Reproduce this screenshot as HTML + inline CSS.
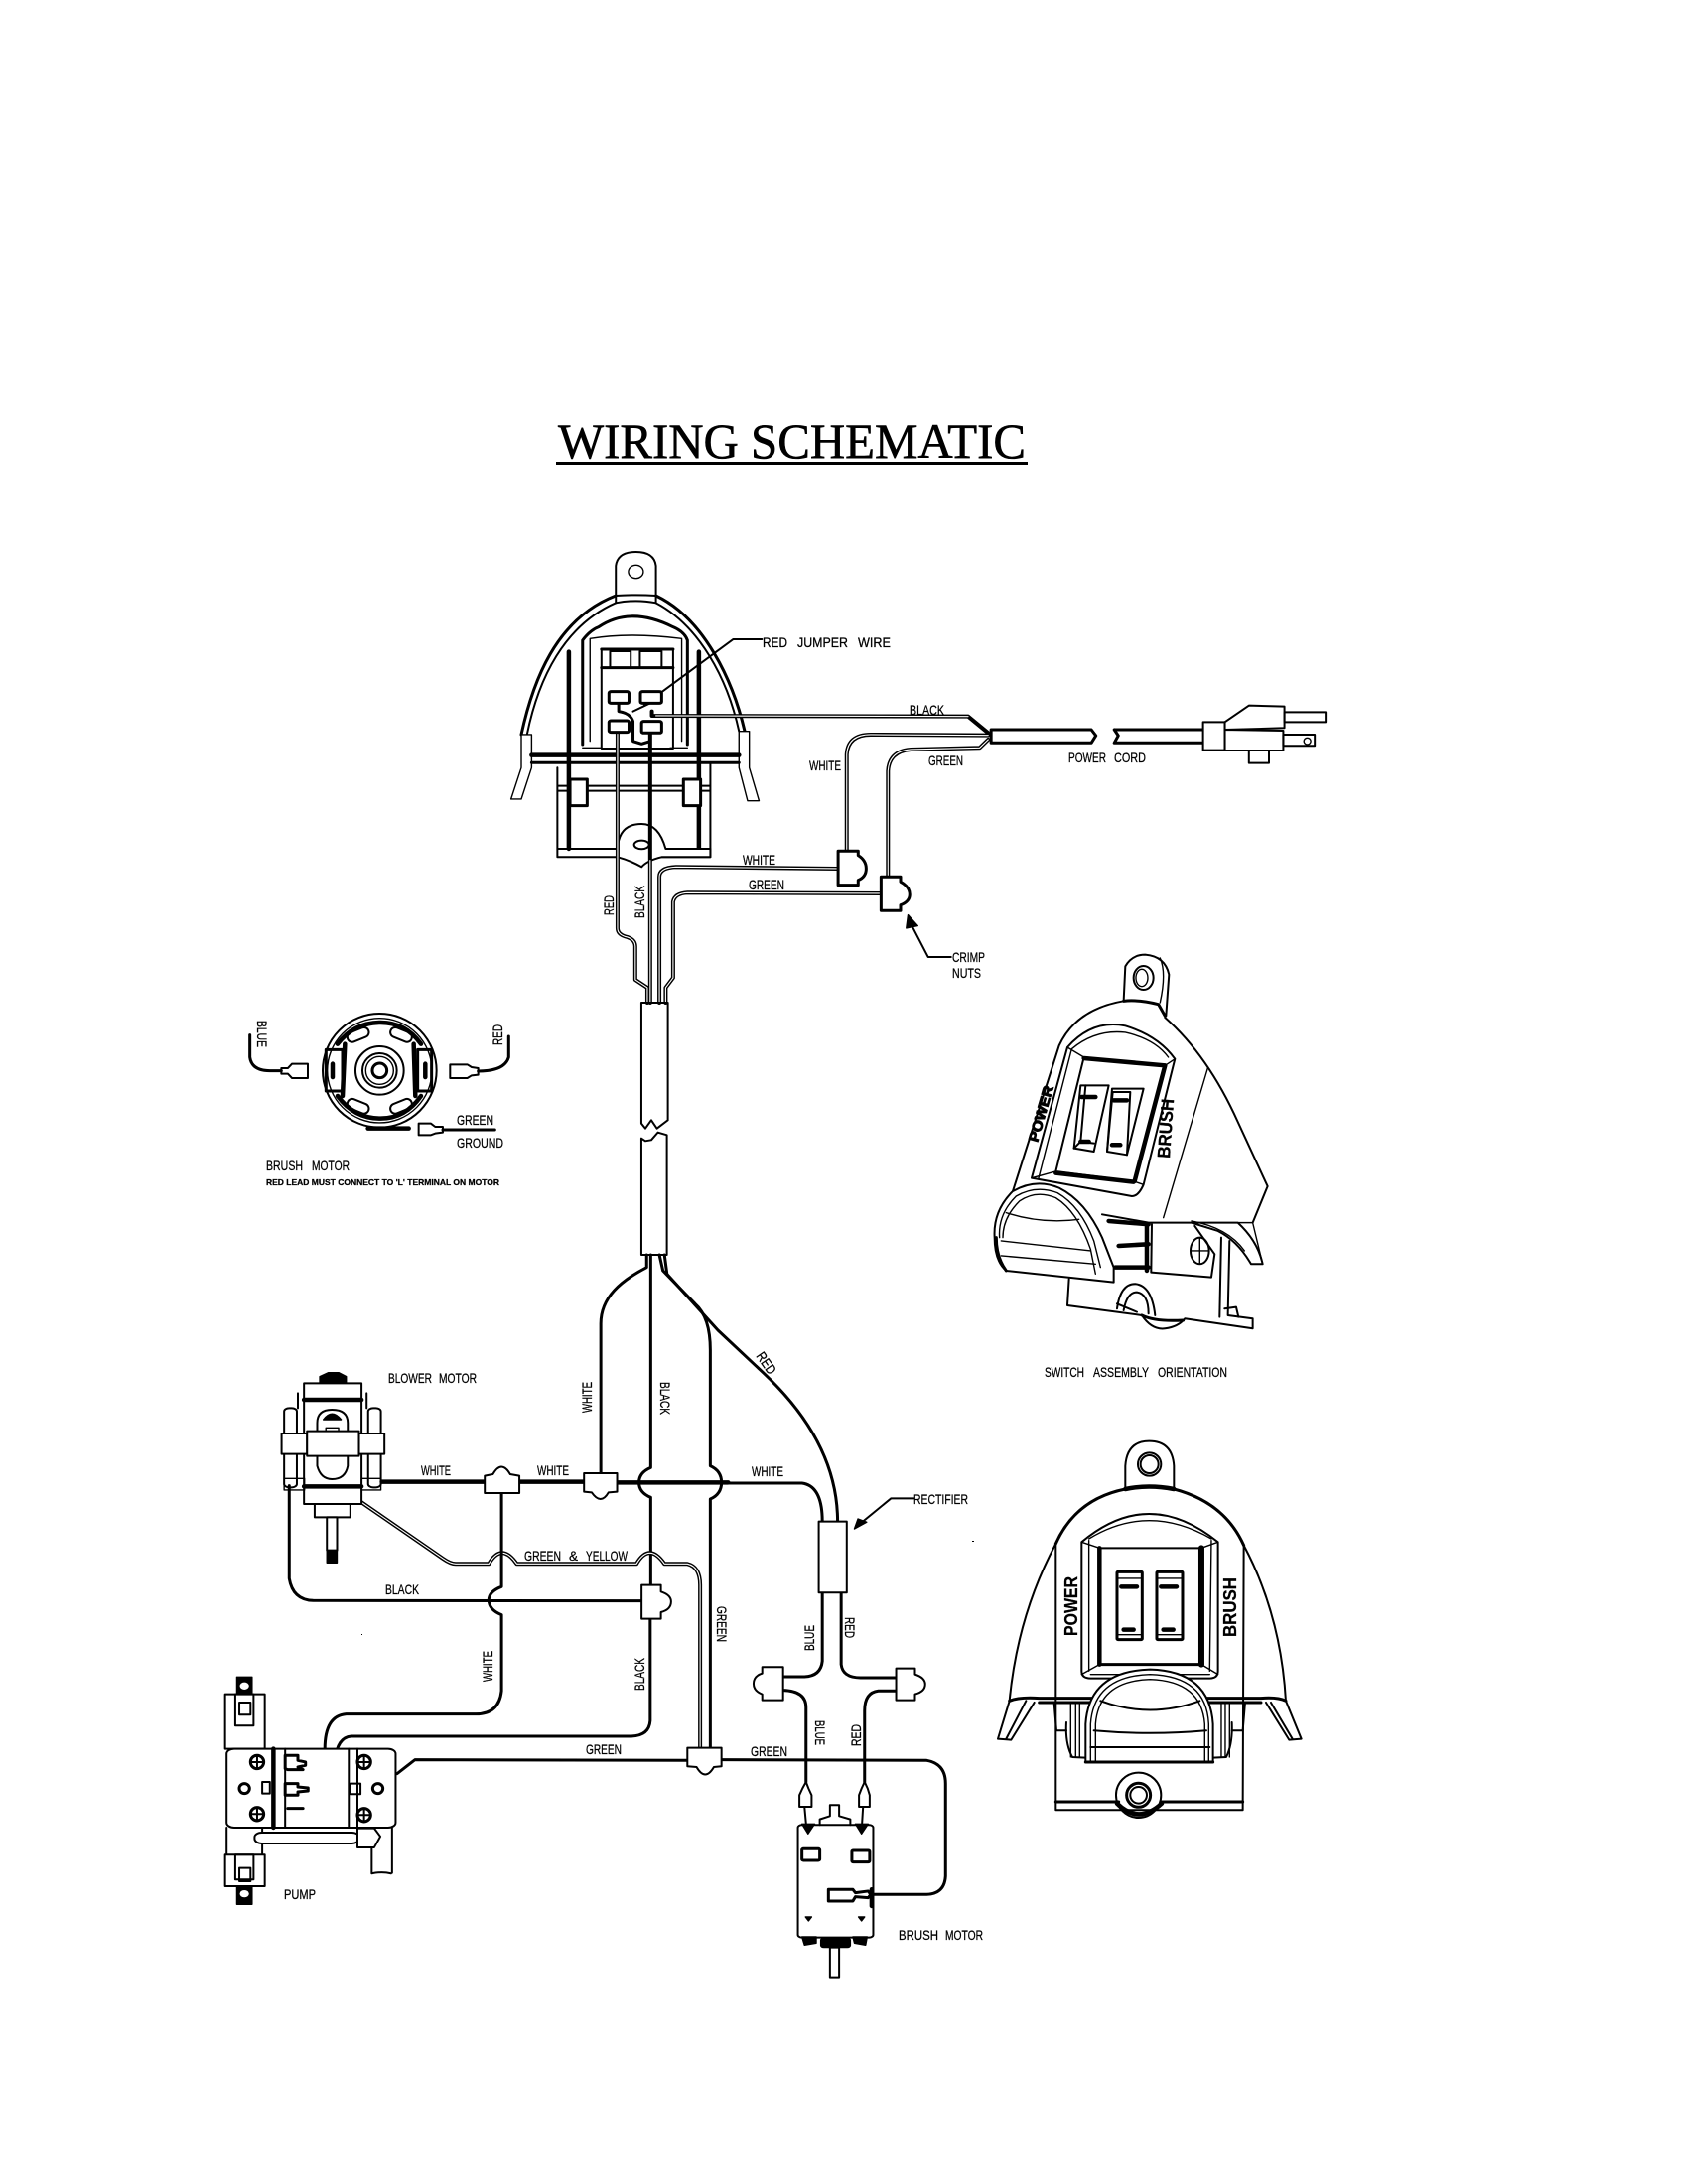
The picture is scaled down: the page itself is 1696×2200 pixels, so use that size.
<!DOCTYPE html>
<html><head><meta charset="utf-8"><title>Wiring Schematic</title>
<style>
html,body{margin:0;padding:0;background:#fff}
svg{display:block}
svg *{vector-effect:non-scaling-stroke}
g.d{fill:none;stroke:#000;stroke-width:1.4;stroke-linejoin:round;stroke-linecap:round}
.w{fill:#fff}
.k{fill:#000}
.m{stroke-width:2}
.t{stroke-width:3}
.x{stroke-width:4.5}
.dk{stroke-width:4}
.dw{stroke:#fff;stroke-width:1.1}
text{font-family:"Liberation Sans",sans-serif;font-size:14px;fill:#000;stroke:#000;stroke-width:.25}
.s{font-size:11px;font-weight:bold}
.b{font-weight:bold;font-size:18px}
</style></head><body>
<svg width="1696" height="2200" viewBox="0 0 1696 2200" xmlns="http://www.w3.org/2000/svg">
<rect width="1696" height="2200" fill="#fff"/>
<text x="562" y="461" textLength="471" lengthAdjust="spacingAndGlyphs" style="font-family:'Liberation Serif',serif;font-size:50px;stroke-width:.6">WIRING SCHEMATIC</text>
<rect x="560" y="465" width="475" height="3" fill="#000"/>

<!-- top switch housing -->
<g class="d" transform="translate(450,520) scale(.577,.3333)">
<path class="m" d="M295 240L295 150Q298 108 330 108Q362 108 365 150L365 240"/>
<ellipse cx="330" cy="168" rx="13" ry="20"/>
<path class="m" d="M295 262L295 240Q330 236 365 240L365 262Q330 250 295 262"/>
<path class="t" d="M130 660C150 500 190 310 295 240M365 240C450 310 500 500 520 650"/>
<path class="m" d="M140 660C160 490 205 330 295 262M365 262C440 330 490 490 510 650"/>
<path class="w" d="M130 660L148 660L148 760L130 855L112 855L130 760Z"/>
<path class="w" d="M510 650L528 650L528 760L545 860L525 860L510 760Z"/>
<path class="t" d="M237 690L237 375Q250 345 265 335Q320 270 395 335Q415 350 420 375L420 690"/>
<path d="M250 680L250 370Q320 350 410 370L410 680M237 700L270 700M390 700L420 700"/>
<rect x="270" y="402" width="125" height="300" class="m"/>
<rect x="285" y="408" width="36" height="50" class="m"/>
<rect x="337" y="408" width="38" height="50" class="m"/>
<path class="t" d="M270 402L395 402M270 458L395 458"/>
<path class="x" d="M148 722L510 722"/>
<path class="t" d="M148 745L510 745"/>
<path class="m" d="M193 760L193 1030L320 1030M460 745L460 1030L375 1030M193 1005L460 1005M195 830L460 830M195 815L460 815"/>
<path class="x" d="M213 410L213 1005M440 410L440 1005"/>
<rect x="215" y="795" width="30" height="80" class="w t"/>
<rect x="413" y="795" width="30" height="80" class="w t"/>
<path class="w m" d="M298 1030L298 1005Q300 930 340 930Q370 930 382 1005L460 1005L460 1030L375 1030Q350 1040 340 1060Q320 1040 298 1030Z" style="fill:#fff"/>
<circle cx="340" cy="993" r="13" class="m"/>
<path class="dk" d="M298 650L298 1245Q298 1265 315 1272Q329 1280 329 1300L329 1401L350 1425L350 1470"/>
<path class="dw" d="M298 650L298 1245Q298 1265 315 1272Q329 1280 329 1300L329 1401L350 1425L350 1470"/>
<path class="dk" d="M355 650L355 1470"/>
<path class="dw" d="M355 1040L355 1470"/>
<path class="dk" d="M371 1470L371 1090Q371 1062 400 1060L683 1065"/>
<path class="dw" d="M371 1470L371 1090Q371 1062 400 1060L683 1065"/>
<path class="dk" d="M382 1470L382 1425L395 1395L395 1165Q398 1140 420 1138L758 1140"/>
<path class="dw" d="M382 1470L382 1425L395 1395L395 1165Q398 1140 420 1138L758 1140"/>
<path class="t" d="M300 565L300 590Q320 595 325 620L325 680L340 688L355 680L355 650"/>
<path class="dk" d="M358 590L358 603L910 605L945 655"/>
<path class="dw" d="M365 603L910 605"/>
<path class="m" d="M345 570L500 372L550 372"/>
<path class="m" d="M325 590L355 565"/>
<rect x="283" y="530" width="35" height="35" rx="4" class="w t"/>
<rect x="338" y="530" width="37" height="35" rx="4" class="w t"/>
<rect x="283" y="618" width="35" height="35" rx="4" class="w t"/>
<rect x="340" y="620" width="35" height="35" rx="4" class="w t"/>
<path class="dk" d="M945 662L740 660Q700 660 698 720L698 1012"/>
<path class="dw" d="M945 662L740 660Q700 660 698 720L698 1012"/>
<path class="dk" d="M945 675L930 700L810 705Q772 710 770 770L770 1090"/>
<path class="dw" d="M945 675L930 700L810 705Q772 710 770 770L770 1090"/>
<path class="t" d="M950 645L1125 645L1133 663L1125 685L950 685Z"/>
<path class="t" d="M1165 645L1172 663L1165 685L1320 685M1165 645L1320 645"/>
<rect x="1320" y="622" width="38" height="85" class="w m"/>
<path class="w m" d="M1358 622L1400 572L1462 575L1462 640L1358 645Z"/>
<path class="w m" d="M1358 645L1460 648L1460 708L1358 708Z"/>
<rect x="1462" y="592" width="72" height="30" class="m"/>
<rect x="1460" y="660" width="55" height="34" class="m"/>
<ellipse cx="1502" cy="680" rx="6" ry="10"/>
<rect x="1400" y="708" width="35" height="38" class="m"/>
<path class="w t" d="M683 1012L718 1012L718 1025Q732 1040 732 1065Q732 1090 718 1100L718 1115L683 1115Z"/>
<path class="w t" d="M758 1090L792 1090L792 1105Q808 1120 808 1143Q808 1165 792 1175L792 1192L758 1192Z"/>
<path class="m" d="M880 1332L840 1332L808 1225"/>
<path class="k" d="M805 1205L802 1245L822 1238Z"/>
</g>

<!-- brush motor end view + sleeve -->
<g class="d" transform="translate(200,980) scale(.3333)">
<circle cx="547" cy="295" r="172" class="m"/>
<circle cx="547" cy="295" r="158"/>
<path class="x" d="M420 215Q470 150 550 150Q625 150 672 215M420 372Q470 440 550 440Q625 440 672 372"/>
<path class="x" d="M442 215L435 372M650 215L655 372"/>
<rect x="385" y="232" width="50" height="125" class="t"/>
<rect x="662" y="232" width="42" height="125" class="t"/>
<path class="x" d="M405 275L405 315M685 275L685 315"/>
<circle cx="547" cy="295" r="73" class="m"/>
<circle cx="547" cy="295" r="52" class="m"/>
<circle cx="547" cy="295" r="42"/>
<circle cx="547" cy="295" r="22" class="t"/>
<rect x="448" y="172" width="68" height="30" rx="15" transform="rotate(-22 482 187)" class="m"/>
<rect x="578" y="172" width="68" height="30" rx="15" transform="rotate(22 612 187)" class="m"/>
<rect x="448" y="388" width="68" height="30" rx="15" transform="rotate(22 482 403)" class="m"/>
<rect x="578" y="388" width="68" height="30" rx="15" transform="rotate(-22 612 403)" class="m"/>
<path class="x" d="M512 470L635 470"/>
<path class="t" d="M155 188L155 255Q160 295 215 296L250 296"/>
<path class="m" d="M250 288L270 288L282 275L330 275L330 318L282 318L270 305L250 305Z"/>
<path class="t" d="M937 192L937 255Q925 297 845 297"/>
<path class="m" d="M845 288L825 285L812 277L760 277L760 318L812 318L825 310L845 308Z"/>
<path class="m" d="M665 455L702 455L715 465L738 465L738 482L715 485L702 490L665 490Z"/>
<path class="t" d="M738 474L895 474"/>
<path class="m" d="M1338 90L1418 90L1418 445L1385 470L1368 445L1350 470L1338 455Z"/>
<path class="m" d="M1338 500L1350 508L1368 505L1388 482L1415 490L1415 852L1338 852Z"/>
</g>

<!-- wires, blower, pump, brush motor -->
<g class="d" transform="translate(200,1340) scale(.5128,.3333)">
<!-- trunk -->
<path class="t" d="M880 -228L880 -190C830 -150 790 -100 790 -20L790 430"/>
<path class="t" d="M888 -228L888 415Q865 430 865 460Q865 490 888 505L888 770"/>
<path class="t" d="M905 -228L912 -180L975 -80Q1005 -40 1005 60L1005 410Q1027 425 1027 460Q1027 495 1005 510L1005 1262"/>
<path class="t" d="M915 -228L920 -170L1020 0L1110 130Q1255 340 1255 578"/>
<path class="dk" d="M985 1262L985 770Q985 715 960 706L915 706Q885 640 860 706L625 706Q595 640 570 706L505 706Q495 706 480 690L320 520"/>
<path class="dw" d="M985 1262L985 770Q985 715 960 706L915 706Q885 640 860 706L625 706Q595 640 570 706L505 706Q495 706 480 690L320 520"/>
<!-- white -->
<path class="x" d="M360 458L562 458M630 458L757 458M822 460L1040 460"/>
<path class="t" d="M1040 462L1185 462Q1225 470 1225 578"/>
<path class="t" d="M595 492L595 775Q570 790 570 815Q570 845 595 860L595 1090Q590 1160 545 1160L290 1160Q248 1165 248 1265Q245 1300 210 1310"/>
<!-- black -->
<path class="t" d="M887 872L887 1180Q885 1225 850 1227L300 1227Q272 1230 268 1300Q268 1385 215 1387"/>
<path class="t" d="M178 470L178 750Q185 815 225 817L870 818"/>
<!-- green -->
<path class="t" d="M390 1340L425 1298L960 1300M1027 1298L1430 1300Q1467 1310 1467 1370L1467 1650Q1465 1703 1430 1705L1320 1705"/>
<!-- rectifier branches -->
<path class="t" d="M1225 793L1225 1000Q1222 1045 1190 1047L1148 1047"/>
<path class="t" d="M1262 793L1262 1010Q1265 1050 1300 1050L1370 1050"/>
<path class="t" d="M1148 1088Q1193 1090 1193 1140L1193 1365"/>
<path class="t" d="M1370 1090L1335 1090Q1308 1095 1308 1150L1308 1365"/>
<rect x="1218" y="578" width="55" height="215" class="w m"/>
<path class="m" d="M1405 508L1360 508L1295 590"/>
<path class="k" d="M1288 600L1295 570L1312 580Z"/>
<!-- nuts -->
<path class="w m" d="M562 492L562 440L578 435Q595 390 612 435L630 440L630 492Z"/>
<path class="w m" d="M757 432L822 432L822 488L805 490Q790 530 772 490L757 488Z"/>
<path class="w m" d="M870 770L908 770L908 790Q928 800 928 820Q928 845 908 852L908 872L870 872Z"/>
<path class="w m" d="M1107 1018L1148 1018L1148 1118L1107 1118L1107 1100Q1090 1090 1090 1068Q1090 1045 1107 1037Z"/>
<path class="w m" d="M1370 1022L1407 1022L1407 1040Q1427 1050 1427 1070Q1427 1092 1407 1100L1407 1118L1370 1118Z"/>
<path class="w m" d="M960 1262L1027 1262L1027 1318L1012 1320Q995 1365 978 1320L960 1318Z"/>
<!-- blower -->
<rect x="207" y="160" width="113" height="365" class="w m"/>
<path class="k" d="M238 160L238 140L255 128L275 128L290 140L290 160Z"/>
<path class="x" d="M207 210L320 210M207 472L320 472"/>
<rect x="168" y="235" width="25" height="240" rx="10" class="m"/>
<rect x="333" y="235" width="25" height="240" rx="10" class="m"/>
<path class="m" d="M195 190L195 235M330 190L330 235"/>
<path class="m" d="M233 305L233 280Q233 240 262 240Q293 240 293 280L293 305"/>
<path class="m" d="M233 380L233 410Q240 450 262 450Q288 450 293 410L293 380"/>
<path class="k" d="M245 270Q262 235 280 270Z"/>
<rect x="250" y="295" width="25" height="15"/>
<rect x="163" y="312" width="50" height="62" class="w m"/>
<rect x="213" y="305" width="102" height="75" class="w m"/>
<rect x="315" y="312" width="50" height="62" class="w m"/>
<rect x="168" y="448" width="40" height="35"/>
<rect x="320" y="448" width="38" height="35"/>
<rect x="228" y="525" width="70" height="40" class="m"/>
<rect x="252" y="565" width="20" height="100" class="w m"/>
<rect x="252" y="665" width="20" height="38" class="k"/>
<!-- pump -->
<rect x="52" y="1100" width="78" height="165" class="w m"/>
<rect x="75" y="1048" width="30" height="50" class="k"/>
<ellipse cx="90" cy="1075" rx="9" ry="11" fill="#fff" stroke="none"/>
<rect x="72" y="1100" width="36" height="95" class="w m"/>
<rect x="80" y="1125" width="22" height="37" class="m"/>
<rect x="55" y="1265" width="332" height="238" rx="15" class="w m"/>
<path class="x" d="M147 1265L147 1503"/>
<path class="m" d="M170 1265L170 1503M295 1265L295 1503M312 1265L312 1503"/>
<g class="t">
<ellipse cx="115" cy="1305" rx="13" ry="20"/><ellipse cx="115" cy="1462" rx="13" ry="20"/>
<ellipse cx="325" cy="1305" rx="13" ry="20"/><ellipse cx="325" cy="1465" rx="13" ry="20"/>
<ellipse cx="90" cy="1385" rx="10" ry="15"/><ellipse cx="352" cy="1385" rx="10" ry="15"/>
</g>
<path class="m" d="M115 1285L115 1325M103 1305L127 1305M115 1442L115 1482M103 1462L127 1462M325 1285L325 1325M313 1305L337 1305M325 1445L325 1485M313 1465L337 1465"/>
<rect x="125" y="1365" width="15" height="35" class="m"/>
<rect x="298" y="1370" width="20" height="32" class="m"/>
<path class="w t" d="M170 1285L195 1285L195 1300L210 1305L210 1315L195 1320L205 1328L175 1328L170 1325Z"/>
<path class="w t" d="M170 1370L195 1370L195 1380L215 1383L215 1392L195 1395L195 1405L170 1405Z"/>
<path class="t" d="M175 1445L205 1445"/>
<path class="m" d="M55 1503L55 1585M125 1503L125 1585M312 1503L312 1505M380 1503L380 1640"/>
<rect x="110" y="1518" width="205" height="33" rx="14" class="w m"/>
<path class="w m" d="M312 1505L345 1505L357 1530L345 1563L312 1563Z"/>
<path class="m" d="M340 1563L340 1642Q360 1635 378 1642"/>
<rect x="52" y="1585" width="78" height="95" class="w m"/>
<rect x="72" y="1585" width="36" height="75" class="m"/>
<rect x="80" y="1625" width="22" height="40" class="m"/>
<rect x="75" y="1680" width="30" height="55" class="k"/>
<ellipse cx="90" cy="1703" rx="9" ry="11" fill="#fff" stroke="none"/>
<!-- brush motor -->
<rect x="1177" y="1495" width="148" height="340" rx="8" class="w m"/>
<path class="m" d="M1220 1495L1220 1478L1240 1468L1240 1435L1258 1435L1258 1468L1280 1478L1280 1495"/>
<path class="k" d="M1185 1492L1210 1492L1197 1522ZM1290 1492L1315 1492L1302 1522Z"/>
<path class="m" d="M1190 1440L1193 1490M1305 1440L1303 1490"/>
<path class="w m" d="M1193 1365L1198 1385L1204 1405L1204 1440L1180 1440L1180 1405L1186 1385Z"/>
<path class="w m" d="M1308 1365L1314 1385L1318 1405L1318 1440L1297 1440L1297 1405L1302 1385Z"/>
<rect x="1185" y="1567" width="35" height="35" rx="3" class="t"/>
<rect x="1283" y="1572" width="35" height="35" rx="3" class="t"/>
<path class="w t" d="M1237 1690L1285 1690L1290 1700L1315 1695L1320 1705L1315 1715L1290 1712L1285 1725L1237 1725Z"/>
<path class="x" d="M1322 1690L1322 1740"/>
<path class="k" d="M1192 1773L1204 1773L1198 1785ZM1296 1773L1308 1773L1302 1785Z"/>
<path class="k" d="M1185 1833L1213 1833L1213 1852L1190 1858ZM1285 1833L1313 1833L1310 1858L1288 1852Z"/>
<rect x="1222" y="1837" width="58" height="28" rx="6" class="k"/>
<rect x="1240" y="1865" width="18" height="90" class="w m"/>
</g>

<!-- switch assembly orientation -->
<g class="d" transform="translate(960,930) scale(.3333)">
<path class="m" d="M515 235L520 130Q540 95 580 95Q640 100 652 155L643 280"/>
<path d="M625 105Q645 150 625 240"/>
<ellipse cx="575" cy="165" rx="30" ry="36" class="m"/>
<ellipse cx="570" cy="165" rx="18" ry="26"/>
<path class="t" d="M515 235Q560 230 620 245L640 280"/>
<path class="m" d="M180 810L320 370Q370 260 515 235M640 285Q770 400 860 600L950 795L905 905"/>
<path d="M770 435L635 890"/>
<path class="m" d="M237 770L345 375Q420 290 520 310Q620 340 670 410L575 790Q560 825 540 825L237 770"/>
<path d="M258 770L358 380Q430 320 520 330Q610 350 650 405"/>
<path d="M345 375L395 405M670 410L640 430M575 790L545 780M237 770L310 750"/>
<path class="m" d="M395 405L640 430L545 780L310 750Z"/>
<path class="x" d="M395 408L640 430M640 430L548 780M310 755L545 782"/>
<path class="w m" d="M385 490L470 490L425 690L365 680Z"/>
<path class="m" d="M400 490L385 660L365 680M385 660L425 665"/>
<path class="w m" d="M480 500L575 500L525 700L465 690Z"/>
<path class="m" d="M482 510L535 510L525 700M482 510L465 690"/>
<path class="x" d="M388 525L430 525M385 660L410 660M485 535L525 535M480 670L505 670"/>
<path class="w m" d="M125 950Q120 870 180 810Q250 770 320 800Q400 840 450 950L485 1040L485 1085L160 1050Q125 1020 125 950Z"/>
<path d="M140 950Q135 880 190 825Q250 790 315 815Q385 855 425 960L445 1040"/>
<path d="M150 950Q150 890 200 840Q250 805 310 830Q375 870 415 985L430 1060"/>
<path d="M160 875Q270 910 380 895M145 960L415 990M145 1005L430 1030"/>
<path class="t" d="M130 950Q130 1010 160 1050"/>
<path class="m" d="M350 1075L345 1155L570 1185Q600 1230 640 1225Q680 1220 700 1195L905 1225L905 1195L830 1185L835 960"/>
<path class="m" d="M810 950L805 1190M820 1165L855 1160L862 1190"/>
<path class="m" d="M495 1165Q505 1090 550 1090Q600 1095 610 1185M515 1170Q525 1115 555 1115Q590 1120 590 1180M495 1150L555 1175"/>
<path class="t" d="M570 1185Q610 1205 695 1200"/>
<path class="m" d="M450 880L590 905L860 905Q920 960 935 1030L900 1030Q860 960 800 930L720 905"/>
<path d="M720 900Q830 920 880 990M860 905L905 905L935 1030"/>
<path class="m" d="M600 910L598 1055L780 1070L790 1000L730 915"/>
<path class="x" d="M470 900L590 910M500 975L590 970M490 1040L590 1040M585 910L585 1050"/>
<ellipse cx="745" cy="990" rx="28" ry="40" class="m"/>
<path d="M720 990L770 990M745 950L745 1030"/>
</g>

<!-- front switch view -->
<g class="d" transform="translate(970,1420) scale(.3333)">
<path class="m" d="M490 240L490 170Q495 95 562 95Q632 95 637 170L637 240"/>
<circle cx="563" cy="165" r="35" class="m"/>
<circle cx="563" cy="165" r="27" class="m"/>
<path class="x" d="M490 240Q560 225 637 240"/>
<path class="t" d="M490 240Q340 270 280 405M637 240Q790 280 848 410"/>
<path class="m" d="M280 405Q165 620 140 880M848 410Q960 620 975 880"/>
<path class="m" d="M280 405L280 1210L845 1210L848 410"/>
<path class="m" d="M358 400Q560 230 770 400L770 790Q770 812 745 812L385 812Q358 812 358 790Z"/>
<path d="M380 390Q560 280 750 390M380 395L380 790M750 395L745 790M358 400L412 418M770 400L720 418M358 800L412 770M770 800L720 770M385 800L745 800"/>
<rect x="412" y="418" width="308" height="352" class="m"/>
<path class="x" d="M412 418L412 770"/>
<path d="M720 418L720 770" style="stroke-width:6"/>
<path class="t" d="M412 770L720 770"/>
<rect x="465" y="490" width="76" height="205" rx="3" class="t"/>
<rect x="585" y="490" width="78" height="205" rx="3" class="t"/>
<path d="M465 510L541 510M585 510L663 510M470 680L537 680M590 680L660 680"/>
<path class="x" d="M478 535L525 535M598 535L645 535M485 665L515 665M605 665L635 665"/>
<path class="m" d="M140 880L105 995L145 998L215 885M190 880L130 995"/>
<path class="m" d="M975 880L1022 995L985 998L915 885M930 885L995 995"/>
<path class="t" d="M140 880Q170 868 230 872L900 872Q950 868 975 880M230 885L900 885"/>
<path class="m" d="M275 885L282 970M852 885L845 970M282 970L312 970M845 970L812 970"/>
<path d="M325 890L325 1050M340 890L340 1050M352 890L352 1050M780 890L780 1050M792 890L792 1050M805 890L805 1050"/>
<path class="m" d="M312 945Q308 1010 330 1050L370 1052M812 945Q815 1010 795 1050L755 1052"/>
<path class="w m" d="M370 1065L370 950Q380 790 565 785Q745 790 755 950L755 1065Z"/>
<path d="M385 1065L385 950Q395 805 565 800Q735 805 742 950L742 1065"/>
<path d="M400 1065L400 950Q410 820 565 815Q720 820 730 950L730 1065"/>
<path class="m" d="M415 880Q565 935 715 880M395 970Q565 985 735 970M385 1020L745 1020"/>
<path class="t" d="M370 1065L755 1065"/>
<path class="t" d="M280 1185L470 1185M600 1185L845 1185"/>
<circle cx="530" cy="1165" r="68" class="m"/>
<circle cx="530" cy="1165" r="36" class="t"/>
<circle cx="530" cy="1165" r="25" class="m"/>
<path class="x" d="M465 1190Q530 1255 600 1190"/>
</g>

<!-- stray specks -->
<rect x="979" y="1552" width="2" height="1" fill="#000"/>
<rect x="364" y="1646" width="1" height="1" fill="#000"/>

<!-- labels -->
<text x="768" y="652" textLength="25" lengthAdjust="spacingAndGlyphs">RED</text>
<text x="803" y="652" textLength="51" lengthAdjust="spacingAndGlyphs">JUMPER</text>
<text x="864" y="652" textLength="33" lengthAdjust="spacingAndGlyphs">WIRE</text>
<text x="916" y="720" textLength="35" lengthAdjust="spacingAndGlyphs">BLACK</text>
<text x="815" y="776" textLength="32" lengthAdjust="spacingAndGlyphs">WHITE</text>
<text x="935" y="771" textLength="35" lengthAdjust="spacingAndGlyphs">GREEN</text>
<text x="1076" y="768" textLength="38" lengthAdjust="spacingAndGlyphs">POWER</text>
<text x="1122" y="768" textLength="32" lengthAdjust="spacingAndGlyphs">CORD</text>
<text x="748" y="871" textLength="33" lengthAdjust="spacingAndGlyphs">WHITE</text>
<text x="754" y="896" textLength="36" lengthAdjust="spacingAndGlyphs">GREEN</text>
<text x="959" y="969" textLength="33" lengthAdjust="spacingAndGlyphs">CRIMP</text>
<text x="959" y="985" textLength="29" lengthAdjust="spacingAndGlyphs">NUTS</text>
<text transform="translate(618,922) rotate(-90)" textLength="20" lengthAdjust="spacingAndGlyphs">RED</text>
<text transform="translate(649,925) rotate(-90)" textLength="33" lengthAdjust="spacingAndGlyphs">BLACK</text>

<text transform="translate(259,1028) rotate(90)" textLength="27" lengthAdjust="spacingAndGlyphs">BLUE</text>
<text transform="translate(506,1053) rotate(-90)" textLength="21" lengthAdjust="spacingAndGlyphs">RED</text>
<text x="460" y="1133" textLength="37" lengthAdjust="spacingAndGlyphs">GREEN</text>
<text x="460" y="1156" textLength="47" lengthAdjust="spacingAndGlyphs">GROUND</text>
<text x="268" y="1179" textLength="37" lengthAdjust="spacingAndGlyphs">BRUSH</text>
<text x="314" y="1179" textLength="38" lengthAdjust="spacingAndGlyphs">MOTOR</text>
<text x="268" y="1194" class="s" textLength="235" lengthAdjust="spacing" style="font-size:8.5px">RED LEAD MUST CONNECT TO 'L' TERMINAL ON MOTOR</text>

<text x="391" y="1393" textLength="44" lengthAdjust="spacingAndGlyphs">BLOWER</text>
<text x="442" y="1393" textLength="38" lengthAdjust="spacingAndGlyphs">MOTOR</text>
<text transform="translate(596,1423) rotate(-90)" textLength="31" lengthAdjust="spacingAndGlyphs">WHITE</text>
<text transform="translate(665,1392) rotate(90)" textLength="33" lengthAdjust="spacingAndGlyphs">BLACK</text>
<text transform="translate(761,1366) rotate(55)" textLength="24" lengthAdjust="spacingAndGlyphs">RED</text>
<text x="424" y="1486" textLength="30" lengthAdjust="spacingAndGlyphs">WHITE</text>
<text x="541" y="1486" textLength="32" lengthAdjust="spacingAndGlyphs">WHITE</text>
<text x="757" y="1487" textLength="32" lengthAdjust="spacingAndGlyphs">WHITE</text>
<text x="528" y="1572" textLength="37" lengthAdjust="spacingAndGlyphs">GREEN</text>
<text x="573" y="1572" textLength="9" lengthAdjust="spacingAndGlyphs">&amp;</text>
<text x="590" y="1572" textLength="42" lengthAdjust="spacingAndGlyphs">YELLOW</text>
<text x="388" y="1606" textLength="34" lengthAdjust="spacingAndGlyphs">BLACK</text>
<text x="920" y="1515" textLength="55" lengthAdjust="spacingAndGlyphs">RECTIFIER</text>
<text transform="translate(722,1618) rotate(90)" textLength="36" lengthAdjust="spacingAndGlyphs">GREEN</text>
<text transform="translate(496,1694) rotate(-90)" textLength="31" lengthAdjust="spacingAndGlyphs">WHITE</text>
<text transform="translate(649,1703) rotate(-90)" textLength="33" lengthAdjust="spacingAndGlyphs">BLACK</text>
<text transform="translate(820,1663) rotate(-90)" textLength="26" lengthAdjust="spacingAndGlyphs">BLUE</text>
<text transform="translate(851,1629) rotate(90)" textLength="21" lengthAdjust="spacingAndGlyphs">RED</text>
<text transform="translate(821,1733) rotate(90)" textLength="25" lengthAdjust="spacingAndGlyphs">BLUE</text>
<text transform="translate(867,1759) rotate(-90)" textLength="22" lengthAdjust="spacingAndGlyphs">RED</text>
<text x="590" y="1767" textLength="36" lengthAdjust="spacingAndGlyphs">GREEN</text>
<text x="756" y="1769" textLength="37" lengthAdjust="spacingAndGlyphs">GREEN</text>
<text x="286" y="1913" textLength="32" lengthAdjust="spacingAndGlyphs">PUMP</text>
<text x="905" y="1954" textLength="40" lengthAdjust="spacingAndGlyphs">BRUSH</text>
<text x="952" y="1954" textLength="38" lengthAdjust="spacingAndGlyphs">MOTOR</text>
<text x="1052" y="1387" textLength="40" lengthAdjust="spacingAndGlyphs">SWITCH</text>
<text x="1101" y="1387" textLength="56" lengthAdjust="spacingAndGlyphs">ASSEMBLY</text>
<text x="1166" y="1387" textLength="70" lengthAdjust="spacingAndGlyphs">ORIENTATION</text>

<text class="b" transform="translate(1178,1167) rotate(-86)" textLength="60" lengthAdjust="spacingAndGlyphs">BRUSH</text>
<text class="b" transform="translate(1045,1151) rotate(-74)" textLength="58" lengthAdjust="spacingAndGlyphs" style="font-size:14px;stroke-width:1">POWER</text>
<text class="b" transform="translate(1085,1648) rotate(-90)" textLength="60" lengthAdjust="spacingAndGlyphs">POWER</text>
<text class="b" transform="translate(1245,1649) rotate(-90)" textLength="60" lengthAdjust="spacingAndGlyphs">BRUSH</text>
</svg>
</body></html>
